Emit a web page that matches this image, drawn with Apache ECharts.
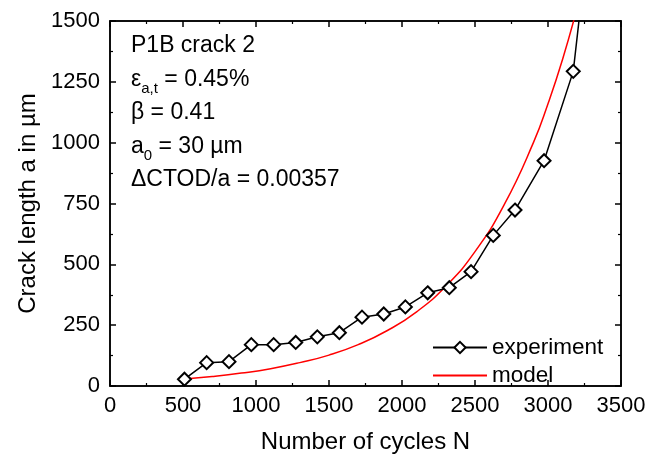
<!DOCTYPE html>
<html>
<head>
<meta charset="utf-8">
<script src="https://cdn.jsdelivr.net/npm/echarts@6/dist/echarts.min.js"></script>
<style>
    html, body { margin: 0; padding: 0; background: #fff; }
    #crackChart { width: 664px; height: 459px; }
</style>
</head>
<body>
<div id="crackChart"></div>
<script>
    // measured crack length (cycles, µm)
    var expCycles = [510, 662, 815, 968, 1121, 1272, 1420, 1571, 1726, 1875, 2023, 2176, 2324, 2473, 2625, 2774, 2973, 3173, 3325]
    var expLength = [28, 96, 100, 170, 170, 179, 202, 219, 283, 296, 325, 383, 404, 470, 619, 723, 926, 1293, 2100]

    // model curve
    var modelCycles = [510, 700, 900, 1100, 1300, 1500, 1700, 1900, 2100, 2300, 2500, 2700, 2900, 3000, 3100, 3200]
    var modelLength = [29, 39, 53, 71, 96, 127, 170, 228, 305, 410, 552, 745, 1000, 1160, 1343, 1555]

    var xTicks = [0, 500, 1000, 1500, 2000, 2500, 3000, 3500]
    var yTicks = [0, 250, 500, 750, 1000, 1250, 1500]

    var font = 'Liberation Sans, Arial, sans-serif'

    function pairs(xs, ys) {
        var out = []
        for (var i = 0; i < xs.length; i++) {
            out.push([xs[i], ys[i]])
        }
        return out
    }

    var myChart = echarts.init(document.getElementById('crackChart'))

    var axisLine = { show: true, onZero: false, lineStyle: { color: '#000', width: 1.5 } }
    var axisTick = { show: true, inside: true, length: 6, lineStyle: { color: '#000', width: 1.5 } }
    var minorTick = { show: true, splitNumber: 2, length: 3, lineStyle: { color: '#000', width: 1.2 } }
    var plain = function (v) { return String(v) }

    var option = {
        animation: false,
        backgroundColor: '#fff',
        grid: {
            left: 110,
            right: 43,
            top: 21,
            bottom: 63,
            show: true,
            borderColor: '#000',
            borderWidth: 1.5
        },
        xAxis: [{
            type: 'value',
            min: xTicks[0],
            max: xTicks[xTicks.length - 1],
            interval: 500,
            name: 'Number of cycles N',
            nameLocation: 'middle',
            nameGap: 44,
            nameTextStyle: { color: '#000', fontSize: 24, fontFamily: font },
            axisLine: axisLine,
            axisTick: axisTick,
            minorTick: minorTick,
            splitLine: { show: false },
            axisLabel: { color: '#000', fontSize: 22, fontFamily: font, margin: 9, formatter: plain }
        }, {
            type: 'value',
            position: 'top',
            min: xTicks[0],
            max: xTicks[xTicks.length - 1],
            interval: 500,
            axisLine: axisLine,
            axisTick: axisTick,
            minorTick: minorTick,
            splitLine: { show: false },
            axisLabel: { show: false }
        }],
        yAxis: [{
            type: 'value',
            min: yTicks[0],
            max: yTicks[yTicks.length - 1],
            interval: 250,
            name: 'Crack length a in µm',
            nameLocation: 'middle',
            nameGap: 70,
            nameTextStyle: { color: '#000', fontSize: 24, fontFamily: font },
            axisLine: axisLine,
            axisTick: axisTick,
            minorTick: minorTick,
            splitLine: { show: false },
            axisLabel: { color: '#000', fontSize: 22, fontFamily: font, margin: 10, formatter: plain }
        }, {
            type: 'value',
            position: 'right',
            min: yTicks[0],
            max: yTicks[yTicks.length - 1],
            interval: 250,
            axisLine: axisLine,
            axisTick: axisTick,
            minorTick: minorTick,
            splitLine: { show: false },
            axisLabel: { show: false }
        }],
        legend: {
            orient: 'vertical',
            left: 427,
            top: 331,
            itemWidth: 54,
            itemHeight: 14,
            itemGap: 5,
            textStyle: { color: '#000', fontSize: 22.5, fontFamily: font },
            data: ['experiment', { name: 'model', itemStyle: { opacity: 0 } }]
        },
        graphic: [{
            type: 'text',
            left: 131,
            top: 29,
            style: {
                text: 'P1B crack 2\n{m|ε}{s|a,t}{m| = 0.45%}\nβ = 0.41\n{m|a}{s|0}{m| = 30 µm}\nΔCTOD/a = 0.00357',
                fill: '#000',
                fontSize: 23,
                fontFamily: font,
                lineHeight: 33.5,
                rich: {
                    m: { fontSize: 23, fontFamily: font, lineHeight: 33.5, fill: '#000' },
                    s: { fontSize: 15, fontFamily: font, lineHeight: 17, verticalAlign: 'bottom', fill: '#000' }
                }
            }
        }],
        series: [{
            name: 'experiment',
            type: 'line',
            data: pairs(expCycles, expLength),
            symbol: 'diamond',
            symbolSize: 13,
            showAllSymbol: true,
            clip: true,
            z: 3,
            lineStyle: { color: '#000', width: 1.5 },
            itemStyle: { color: '#fff', borderColor: '#000', borderWidth: 2 }
        }, {
            name: 'model',
            type: 'line',
            data: pairs(modelCycles, modelLength),
            smooth: true,
            showSymbol: false,
            clip: true,
            z: 2,
            lineStyle: { color: '#ff0000', width: 1.5 },
            itemStyle: { color: '#ff0000' }
        }, {
            // binds the mirrored top/right axes so their ticks are drawn
            name: 'frame',
            type: 'line',
            xAxisIndex: 1,
            yAxisIndex: 1,
            data: [],
            silent: true
        }]
    }
    myChart.setOption(option)
</script>
</body>
</html>
